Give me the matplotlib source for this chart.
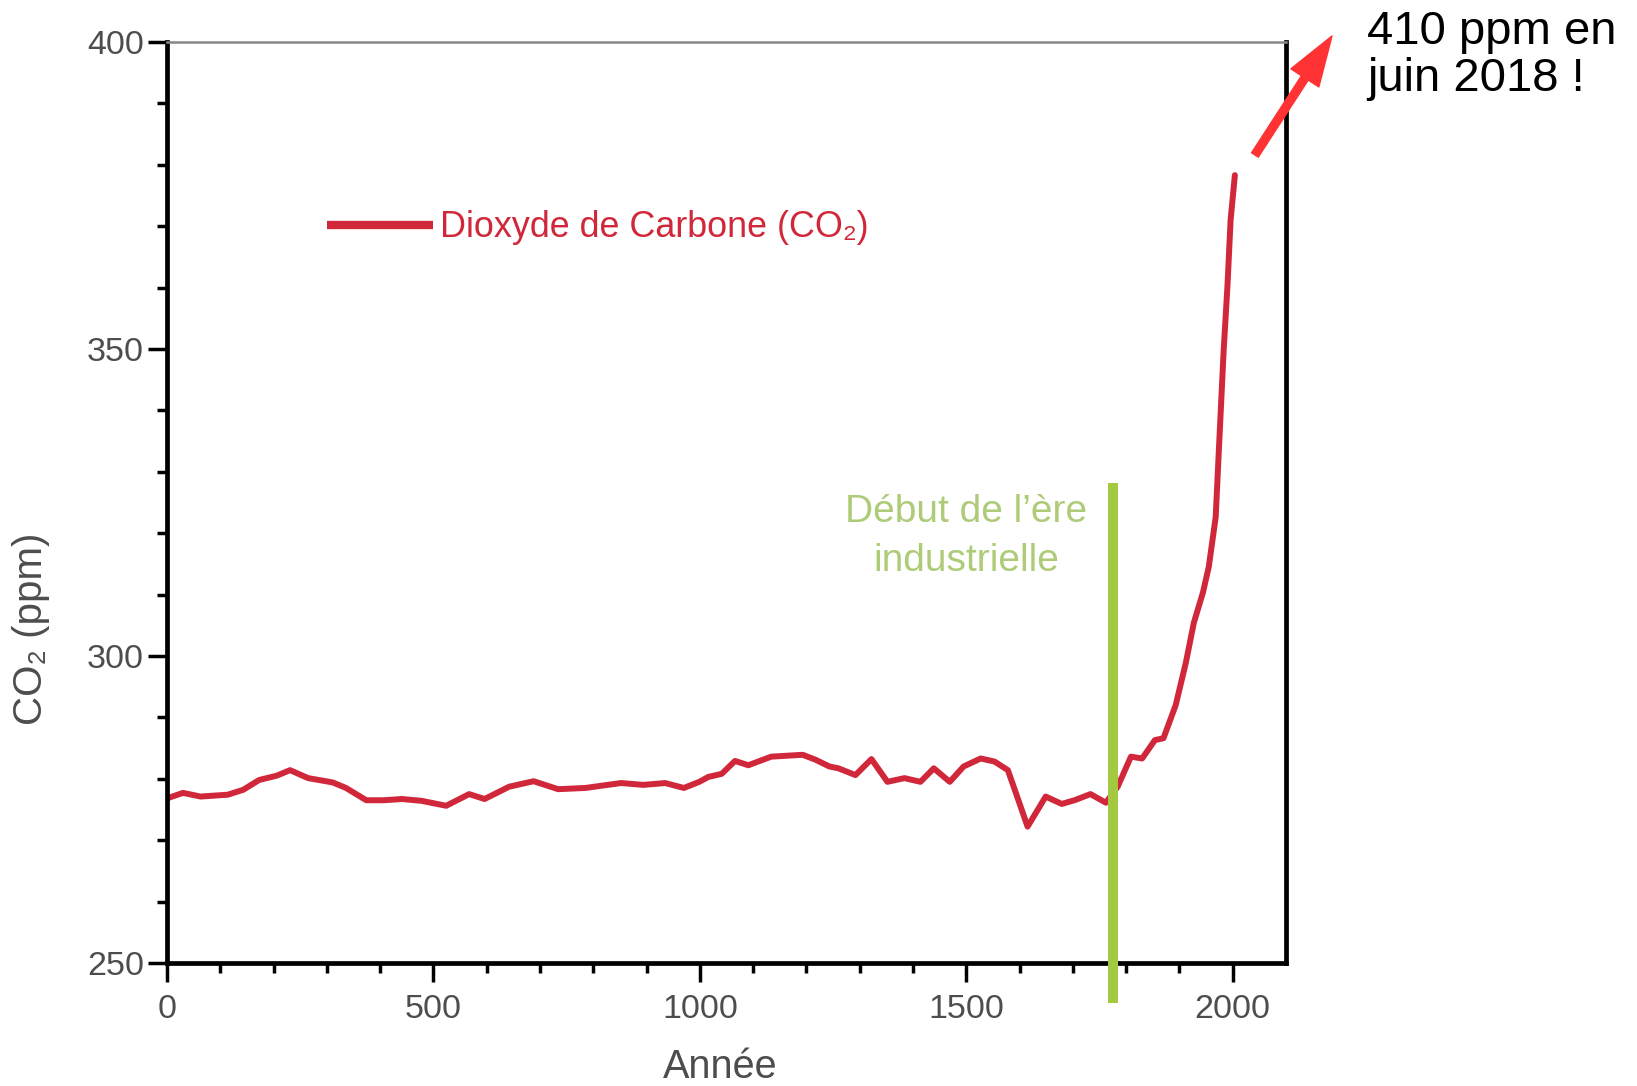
import numpy as np
import matplotlib
matplotlib.use("Agg")
import matplotlib.pyplot as plt
from matplotlib.ticker import MultipleLocator, FixedLocator

plt.rcParams["font.family"] = ["Liberation Sans", "DejaVu Sans"]

# CO2 concentration
years = [0, 30, 63, 114, 143, 173, 206, 231, 265, 311, 336, 374, 407, 441,
         478, 524, 567, 596, 642, 688, 734, 785, 852, 894, 935, 970, 999,
         1016, 1041, 1066, 1091, 1134, 1193, 1217, 1243, 1260, 1292, 1322,
         1352, 1384, 1414, 1439, 1469, 1495, 1527, 1553, 1578, 1591, 1615,
         1649, 1679, 1703, 1733, 1762, 1784, 1809, 1830, 1854, 1870, 1893,
         1912, 1927, 1944, 1955, 1968, 1974, 1983, 1990, 1996, 2004]
co2_ppm = [276.8, 277.7, 277.1, 277.4, 278.2, 279.8, 280.5, 281.4, 280.1,
           279.4, 278.5, 276.5, 276.5, 276.7, 276.4, 275.6, 277.5, 276.7,
           278.7, 279.6, 278.3, 278.5, 279.3, 279.0, 279.3, 278.5, 279.5,
           280.3, 280.8, 282.9, 282.2, 283.6, 283.9, 283.1, 282.0, 281.7,
           280.6, 283.2, 279.5, 280.1, 279.5, 281.7, 279.5, 282.0, 283.3,
           282.8, 281.4, 278.2, 272.2, 277.1, 275.9, 276.5, 277.5, 276.1,
           278.7, 283.6, 283.3, 286.3, 286.6, 292.0, 298.9, 305.4, 310.3,
           314.5, 322.6, 333.6, 349.8, 360.1, 371.0, 378.3]

industrial_year = 1775
x_major = [0, 500, 1000, 1500, 2000]
y_major = [250, 300, 350, 400]

RED = "#d0283a"
GREEN_LINE = "#a2c940"
GREEN_TEXT = "#aecb78"
GRAY = "#4d4d4d"

fig = plt.figure(figsize=(16.37, 10.86), dpi=100)
ax = fig.add_axes([0.1020, 0.1133, 0.6836, 0.8481])

line, = ax.plot(years, co2_ppm, color=RED, linewidth=4.3,
                solid_joinstyle="round", solid_capstyle="round",
                label="Dioxyde de Carbone (CO₂)")

# industrial era marker, extends below the axis
ax.axvline(industrial_year, ymin=-0.038, ymax=0.516, color=GREEN_LINE,
           linewidth=7.2, clip_on=False, zorder=3)
ax.text(1500, 319.5, "Début de l’ère\nindustrielle", color=GREEN_TEXT,
        fontsize=28, ha="center", va="center", linespacing=1.45)

ax.set_xlim(0, 2100)
ax.set_ylim(250, 400)
ax.xaxis.set_major_locator(FixedLocator(x_major))
ax.xaxis.set_minor_locator(FixedLocator(np.arange(100, 2000, 100)))
ax.yaxis.set_major_locator(FixedLocator(y_major))
ax.yaxis.set_minor_locator(MultipleLocator(10))

ax.tick_params(which="major", length=13.7, width=2.5, color="black",
               labelsize=24.5, labelcolor=GRAY)
ax.tick_params(which="minor", length=7.2, width=2.5, color="black")
ax.tick_params(axis="x", which="both", pad=9)
ax.tick_params(axis="y", which="both", pad=3)

for side in ["left", "bottom", "right"]:
    ax.spines[side].set_linewidth(3.4)
    ax.spines[side].set_color("black")
ax.spines["top"].set_linewidth(1.8)
ax.spines["top"].set_color("#888888")

ax.set_xlabel("Année", fontsize=28.5, color=GRAY, va="center")
ax.xaxis.set_label_coords(0.494, -0.113)
ax.set_ylabel("CO₂ (ppm)", fontsize=29, color=GRAY, va="center")
ax.yaxis.set_label_coords(-0.1215, 0.3626)

leg = ax.legend(loc="center left", bbox_to_anchor=(0.143, 0.798),
                frameon=False, fontsize=25.8, handlelength=2.95,
                handletextpad=0.2, borderpad=0, borderaxespad=0,
                labelcolor=RED)
leg_line = leg.get_lines()[0]
leg_line.set_linewidth(6)
leg_line.set_solid_capstyle("butt")

# note outside the plot
fig.text(0.835, 0.991, "410 ppm en\njuin 2018 !", fontsize=34,
         color="black", ha="left", va="top", linespacing=1.1)
ax.annotate("", xy=(0.8137, 0.9669), xycoords="figure fraction",
            xytext=(0.7666, 0.8573), textcoords="figure fraction",
            arrowprops=dict(arrowstyle="simple,head_length=36,head_width=24,tail_width=5.8",
                            color="#ff3333", shrinkA=0, shrinkB=0,
                            mutation_scale=1),
            annotation_clip=False)

fig.savefig("out.png", dpi=100)
